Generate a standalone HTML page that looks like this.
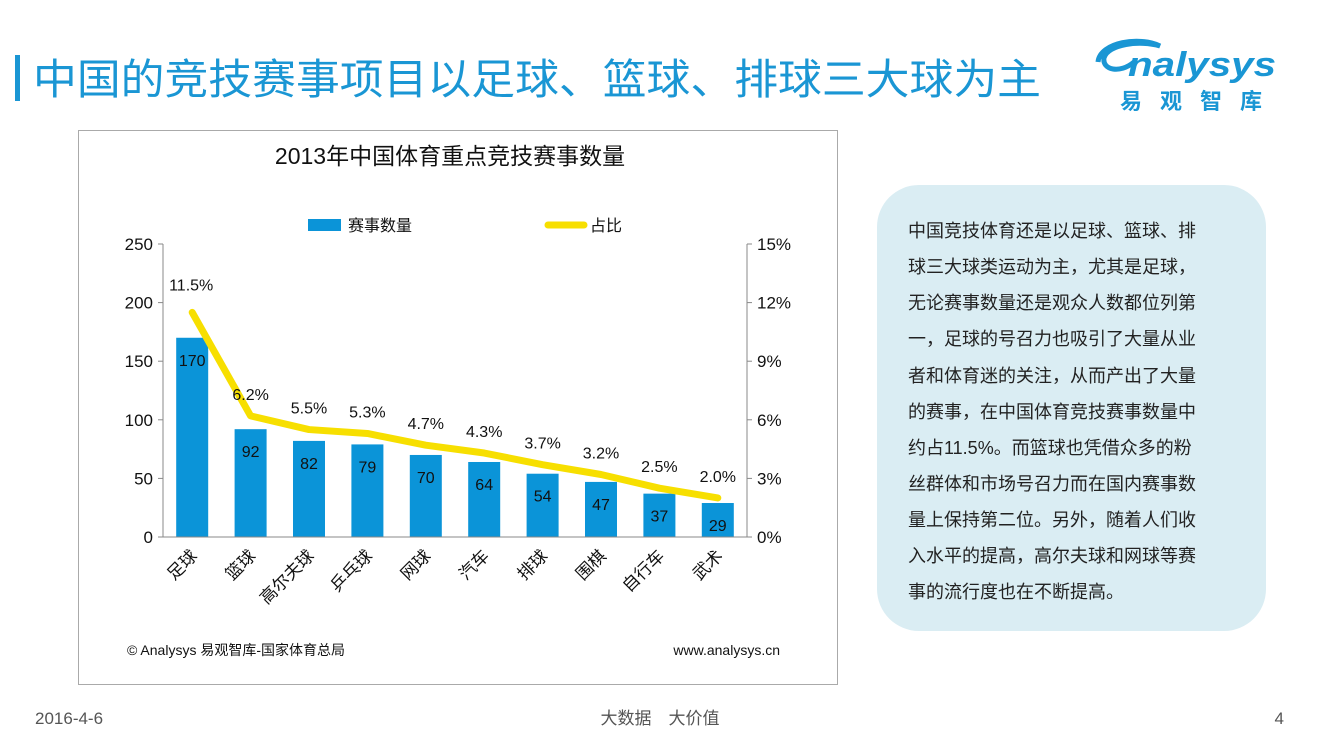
<!DOCTYPE html>
<html><head><meta charset="utf-8"><style>
body{margin:0;background:#fff;}
svg{display:block;font-family:"Liberation Sans","Noto Sans CJK SC",sans-serif;}
</style></head><body>
<svg width="1320" height="743" viewBox="0 0 1320 743" xmlns="http://www.w3.org/2000/svg" id="root">
<rect x="15" y="55" width="5" height="46" fill="#1a96d4"/>
<text x="33" y="94" font-size="42" fill="#1a96d4" textLength="1008" lengthAdjust="spacingAndGlyphs">中国的竞技赛事项目以足球、篮球、排球三大球为主</text>
<g>
<path d="M1098 62 C1100 42 1140 36 1160 46 C1140 40 1108 44 1104 58 C1102 70 1120 74 1134 62" fill="none" stroke="#1a96d4" stroke-width="5"/>
<text x="1128" y="76" font-size="34" font-style="italic" font-weight="bold" fill="#1a96d4" textLength="148" lengthAdjust="spacingAndGlyphs">nalysys</text>
<text x="1120" y="109" font-size="22" font-weight="bold" fill="#1a96d4" textLength="142" lengthAdjust="spacing">易观智库</text>
</g>
<rect x="78.5" y="130.5" width="759" height="554" fill="#fff" stroke="#aaa"/>
<text x="450" y="164" font-size="23" text-anchor="middle" fill="#111">2013年中国体育重点竞技赛事数量</text>
<g id="chart"></g>
<text x="127" y="655" font-size="14" fill="#111">© Analysys 易观智库-国家体育总局</text>
<text x="780" y="655" font-size="14" fill="#111" text-anchor="end">www.analysys.cn</text>
<rect x="877" y="185" width="389" height="446" rx="42" fill="#daedf3"/>
<g font-size="18" fill="#222">
<text x="908" y="237">中国竞技体育还是以足球、篮球、排</text>
<text x="908" y="273">球三大球类运动为主，尤其是足球，</text>
<text x="908" y="309">无论赛事数量还是观众人数都位列第</text>
<text x="908" y="345">一，足球的号召力也吸引了大量从业</text>
<text x="908" y="382">者和体育迷的关注，从而产出了大量</text>
<text x="908" y="418">的赛事，在中国体育竞技赛事数量中</text>
<text x="908" y="454">约占11.5%。而篮球也凭借众多的粉</text>
<text x="908" y="490">丝群体和市场号召力而在国内赛事数</text>
<text x="908" y="526">量上保持第二位。另外，随着人们收</text>
<text x="908" y="562">入水平的提高，高尔夫球和网球等赛</text>
<text x="908" y="598">事的流行度也在不断提高。</text>
</g>
<text x="35" y="724" font-size="17" fill="#555">2016-4-6</text>
<text x="660" y="724" font-size="17" fill="#555" text-anchor="middle">大数据　大价值</text>
<text x="1284" y="724" font-size="17" fill="#555" text-anchor="end">4</text>
</svg>
<script>
const categories=["足球","篮球","高尔夫球","乒乓球","网球","汽车","排球","围棋","自行车","武术"];
const counts=[170,92,82,79,70,64,54,47,37,29];
const shares=[11.5,6.2,5.5,5.3,4.7,4.3,3.7,3.2,2.5,2.0];
const leftTicks=[0,50,100,150,200,250];
const rightTicks=[0,3,6,9,12,15];
const NS="http://www.w3.org/2000/svg";
const g=document.getElementById('chart');
const X0=163,X1=747,Y0=537,Y1=244;
const step=(X1-X0)/categories.length;
const xc=i=>X0+step*(i+0.5);
const yL=v=>Y0-(v/250)*(Y0-Y1);
const yR=v=>Y0-(v/15)*(Y0-Y1);
function mk(t,a,p){const e=document.createElementNS(NS,t);for(const k in a)e.setAttribute(k,a[k]);(p||g).appendChild(e);return e;}
let e;
e=mk('line',{x1:X0,y1:Y1,x2:X0,y2:Y0,stroke:'#888'});


e=mk('line',{x1:X1,y1:Y1,x2:X1,y2:Y0,stroke:'#888'});


leftTicks.forEach(v=>{mk('line',{x1:X0-5,x2:X0,y1:yL(v),y2:yL(v),stroke:'#888'});
 e=mk('text',{x:X0-10,y:yL(v)+6,'font-size':17,'text-anchor':'end',fill:'#111'});e.textContent=v;
 
 });
rightTicks.forEach(v=>{mk('line',{x1:X1,x2:X1+5,y1:yR(v),y2:yR(v),stroke:'#888'});
 e=mk('text',{x:X1+10,y:yR(v)+6,'font-size':17,fill:'#111'});e.textContent=v+'%';
 
 });
counts.forEach((v,i)=>{
 e=mk('rect',{x:xc(i)-16,y:yL(v),width:32,height:Y0-yL(v),fill:'#0b94d8'});
 
 
 e=mk('text',{x:xc(i),y:yL(v)+28,'font-size':16,'text-anchor':'middle',fill:'#111'});e.textContent=v;
 
 
 e=mk('text',{'font-size':17,'text-anchor':'end',fill:'#111',transform:`translate(${xc(i)+6},${Y0+20}) rotate(-45)`});e.textContent=categories[i];
 
 
});
mk('line',{x1:X0,y1:Y0,x2:X1,y2:Y0,stroke:'#888'});
e=mk('polyline',{points:shares.map((v,i)=>xc(i)+','+yR(v)).join(' '),fill:'none',stroke:'#f7df00','stroke-width':7,'stroke-linejoin':'round','stroke-linecap':'round'});


shares.forEach((v,i)=>{
 e=mk('text',{x:xc(i)+(i==0?-1:0),y:yR(v)-(i==0?22:16),'font-size':16,'text-anchor':'middle',fill:'#111'});e.textContent=v.toFixed(1)+'%';
 
 
});
e=mk('rect',{x:308,y:219,width:33,height:12,fill:'#0b94d8'});


e=mk('text',{x:348,y:231,'font-size':16,fill:'#111'});e.textContent='赛事数量';


e=mk('line',{x1:548,y1:225,x2:584,y2:225,stroke:'#f7df00','stroke-width':7,'stroke-linecap':'round'});


e=mk('text',{x:590,y:231,'font-size':16,fill:'#111'});e.textContent='占比';


</script>
</body></html>
